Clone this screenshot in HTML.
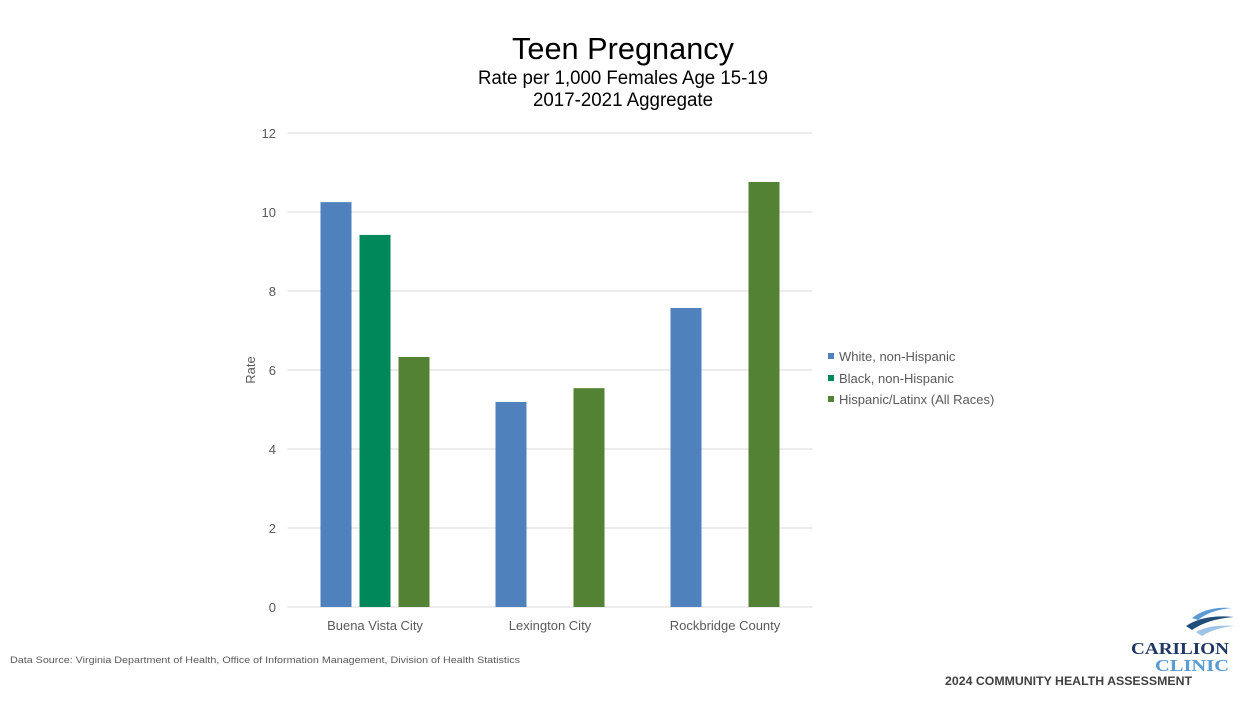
<!DOCTYPE html>
<html><head><meta charset="utf-8"><style>
body{margin:0;background:#fff;width:1247px;height:701px;overflow:hidden;font-family:"Liberation Sans",Arial,sans-serif}
</style></head><body>
<svg id="chart" width="1247" height="701" viewBox="0 0 1247 701" xmlns="http://www.w3.org/2000/svg" font-family="Liberation Sans, Arial, sans-serif">
<text x="623" y="59" text-anchor="middle" font-size="31" fill="#000" textLength="222" lengthAdjust="spacingAndGlyphs">Teen Pregnancy</text>
<text x="623" y="84" text-anchor="middle" font-size="19" fill="#000" textLength="290" lengthAdjust="spacingAndGlyphs">Rate per 1,000 Females Age 15-19</text>
<text x="623" y="106" text-anchor="middle" font-size="19" fill="#000" textLength="180" lengthAdjust="spacingAndGlyphs">2017-2021 Aggregate</text>
<g id="grid"></g><g id="bars"></g><g id="xlabels"></g>
<text transform="translate(255,370) rotate(-90)" text-anchor="middle" font-size="13" fill="#595959">Rate</text>
<g>
<rect x="828" y="353" width="6" height="6" fill="#4f81bd"/>
<text x="839" y="361" font-size="13" fill="#595959">White, non-Hispanic</text>
<rect x="828" y="375" width="6" height="6" fill="#00875a"/>
<text x="839" y="383" font-size="13" fill="#595959">Black, non-Hispanic</text>
<rect x="828" y="396" width="6" height="6" fill="#548235"/>
<text x="839" y="404" font-size="13" fill="#595959">Hispanic/Latinx (All Races)</text>
</g>
<text x="10" y="663" font-size="9" fill="#595959" textLength="510" lengthAdjust="spacingAndGlyphs">Data Source: Virginia Department of Health, Office of Information Management, Division of Health Statistics</text>
<g>
<path d="M1192 618 q15 -12 40 -10 q-22 2 -34 12z" fill="#5b9bd5"/>
<path d="M1186 626 q18 -12 48 -9 q-26 2 -42 13z" fill="#1f4e79"/>
<path d="M1196 632 q14 -8 38 -6 q-20 2 -32 10z" fill="#9dc3e6"/>
<text x="1131" y="654" font-family="Liberation Serif, serif" font-weight="bold" font-size="17" fill="#1f3864" textLength="98" lengthAdjust="spacingAndGlyphs">CARILION</text>
<text x="1155" y="671" font-family="Liberation Serif, serif" font-weight="bold" font-size="17" fill="#5b9bd5" textLength="74" lengthAdjust="spacingAndGlyphs">CLINIC</text>
</g>
<text x="945" y="685" font-size="12" font-weight="bold" fill="#404040" textLength="247" lengthAdjust="spacingAndGlyphs">2024 COMMUNITY HEALTH ASSESSMENT</text>
</svg>
<script>
const categories=["Buena Vista City","Lexington City","Rockbridge County"];
const whiteValues=[10.25,5.19,7.57];
const blackValues=[9.42,null,null];
const hispanicValues=[6.33,5.54,10.76];
const yTicks=[0,2,4,6,8,10,12];
const NS="http://www.w3.org/2000/svg";
const x0=287.5,x1=812.5,y0=607,y1=133,yMax=12;
const yScale=v=>y0-(v/yMax)*(y0-y1);
const band=(x1-x0)/categories.length;
const xCenter=i=>x0+band*(i+0.5);
function mk(t,a,p){const e=document.createElementNS(NS,t);for(const k in a)e.setAttribute(k,a[k]);p.appendChild(e);return e;}
const grid=document.getElementById('grid');
yTicks.forEach(t=>{
 const l=mk('line',{x1:x0,x2:x1,y1:yScale(t),y2:yScale(t),stroke:'#d9d9d9','stroke-width':1},grid);
 
 
 const tx=mk('text',{x:276,y:yScale(t)+5,'text-anchor':'end','font-size':13,fill:'#595959'},grid);
 tx.textContent=t;
 
 
});
const series=[[whiteValues,'#4f81bd','white'],[blackValues,'#00875a','black'],[hispanicValues,'#548235','hispanic']];
const bars=document.getElementById('bars'),xl=document.getElementById('xlabels');
const bw=31,step=39;
categories.forEach((c,i)=>{
 series.forEach((s,j)=>{
  const v=s[0][i];if(v==null)return;
  const cx=xCenter(i)+(j-1)*step;
  const r=mk('rect',{x:cx-bw/2,y:yScale(v),width:bw,height:y0-yScale(v),fill:s[1]},bars);
  
  
 });
 const t=mk('text',{x:xCenter(i),y:630,'text-anchor':'middle','font-size':13,fill:'#595959'},xl);
 t.textContent=c;
 
 
});
</script>
</body></html>
